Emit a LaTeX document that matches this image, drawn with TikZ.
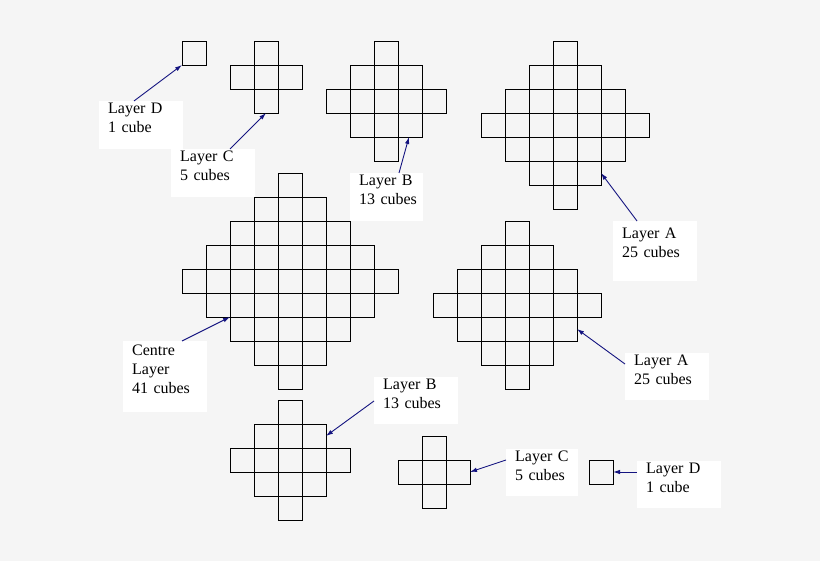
\documentclass[tikz,border=0pt]{standalone}
\usepackage{fontspec}
\setmainfont{Liberation Serif}
\usetikzlibrary{arrows.meta,positioning}
\definecolor{bgGrey}{RGB}{245,245,245}
\definecolor{arrowBlue}{RGB}{20,20,128}

% #1,#2: top left of the middle cube, #3: radius of the layer
\newcommand{\cubelayer}[3]{%
  \foreach \i in {-#3,...,#3}{
    \pgfmathtruncatemacro{\w}{#3-abs(\i)}
    \foreach \j in {-\w,...,\w}
      \draw[cube] ({#1+24*\i},{#2+24*\j}) rectangle ++(24,24);
  }}

\begin{document}
\begin{tikzpicture}[x=1pt, y=-1pt,
    cube/.style={draw=black, line width=0.9pt},
    lbl/.style={fill=white, anchor=north west, align=left, text width=66pt,
      inner xsep=9pt, inner ysep=0pt, text height=12pt, text depth=36pt,
      font=\fontsize{16pt}{19pt}\selectfont},
    arr/.style={draw=arrowBlue, line width=0.9pt, -{Latex[length=7pt,width=4.5pt]}}]
  \fill[bgGrey] (0,0) rectangle (820,561);
  \useasboundingbox (0,0) rectangle (820,561);

  \cubelayer{182}{41}{0}
  \cubelayer{254}{65}{1}
  \cubelayer{374}{89}{2}
  \cubelayer{553}{113}{3}
  \cubelayer{278}{269}{4}
  \cubelayer{505}{293}{3}
  \cubelayer{278}{448}{2}
  \cubelayer{422}{460}{1}
  \cubelayer{589}{460}{0}

  \node[lbl] (labD1) at (99,101) {Layer D\\1 cube};
  \node[lbl] (labC1) at (171,149) {Layer C\\5 cubes};
  \node[lbl, text width=55pt] (labB1) at (350,173) {Layer B\\13~cubes};
  \node[lbl, text height=17pt, text depth=43pt] (labA1) at (613,221) {Layer A\\25 cubes};
  \node[lbl, text height=14pt, text depth=57pt] (labCentre) at (123,341) {Centre\\Layer\\41 cubes};
  \node[lbl, text depth=35pt] (labA2) at (625,353) {Layer A\\25 cubes};
  \node[lbl, text depth=35pt] (labB2) at (374,377) {Layer B\\13 cubes};
  \node[lbl, text depth=35pt, text width=54pt] (labC2) at (506,449) {Layer C\\5~cubes};
  \node[lbl, text depth=35pt] (labD2) at (637,461) {Layer D\\1 cube};

  \coordinate (tipD1) at (182,65);
  \coordinate (tipC1) at (266,113);
  \coordinate (tipB1) at (409,137);
  \coordinate (tipA1) at (601,173);
  \coordinate (tipCentre) at (230,317);
  \coordinate (tipA2) at (577,329);
  \coordinate (tipB2) at (326,436);
  \coordinate (tipC2) at (470,472);
  \coordinate (tipD2) at (613,472);

  \draw[arr] ([xshift=35pt]labD1.north west) -- (tipD1);
  \draw[arr] ([xshift=59pt]labC1.north west) -- (tipC1);
  \draw[arr] ([xshift=49pt]labB1.north west) -- (tipB1);
  \draw[arr] ([xshift=24pt]labA1.north west) -- (tipA1);
  \draw[arr] ([xshift=59pt]labCentre.north west) -- (tipCentre);
  \draw[arr] ([yshift=-11pt]labA2.north west) -- (tipA2);
  \draw[arr] ([yshift=-24pt]labB2.north west) -- (tipB2);
  \draw[arr] ([yshift=-11pt]labC2.north west) -- (tipC2);
  \draw[arr] ([yshift=-11pt]labD2.north west) -- (tipD2);
\end{tikzpicture}
\end{document}
